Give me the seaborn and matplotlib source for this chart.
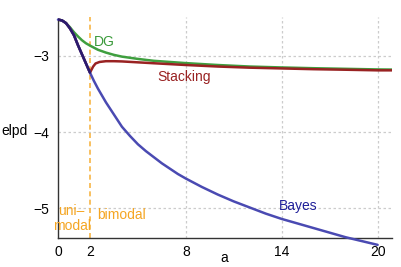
import numpy as np
import pandas as pd
import matplotlib
matplotlib.use("Agg")
import matplotlib.pyplot as plt
import seaborn as sns

sns.set_theme(style="white")
plt.rcParams['font.family'] = ['Liberation Sans', 'DejaVu Sans']

a_bayes = [0, 0.25, 0.5, 0.75, 1, 1.25, 1.5, 1.75, 2, 2.25, 2.5, 2.75, 3, 3.5, 4, 4.5,
           5, 5.5, 6, 6.5, 7, 7.5, 8, 9, 10, 11, 12, 13, 14, 15, 16, 17, 18, 19, 20]
bayes = [-2.524, -2.535, -2.57, -2.64, -2.73, -2.86, -2.98, -3.10, -3.22, -3.33, -3.43, -3.52,
         -3.61, -3.77, -3.93, -4.05, -4.16, -4.25, -4.33, -4.41, -4.48, -4.55, -4.61, -4.72,
         -4.82, -4.91, -4.99, -5.07, -5.14, -5.20, -5.26, -5.32, -5.38, -5.43, -5.48]

a_dg = [0, 0.25, 0.5, 0.75, 1, 1.25, 1.5, 1.75, 2, 2.5, 3, 3.5, 4, 5, 6, 7, 8, 10, 12, 14, 16, 18, 20, 21]
dg = [-2.524, -2.535, -2.57, -2.625, -2.69, -2.745, -2.795, -2.835, -2.865, -2.92, -2.957,
      -2.987, -3.01, -3.04, -3.065, -3.08, -3.095, -3.12, -3.14, -3.152, -3.162, -3.17, -3.178, -3.18]

a_stack = [0, 0.25, 0.5, 0.75, 1, 1.25, 1.5, 1.75, 2, 2.1, 2.2, 2.35, 2.6, 3, 3.5, 4, 5, 6, 8,
           10, 12, 14, 16, 18, 20, 21]
stacking = [-2.524, -2.535, -2.57, -2.64, -2.73, -2.86, -2.98, -3.10, -3.22, -3.18, -3.14,
            -3.10, -3.08, -3.07, -3.07, -3.073, -3.085, -3.097, -3.12, -3.14, -3.155, -3.165,
            -3.175, -3.182, -3.19, -3.19]

x_ticks = [0, 2, 8, 14, 20]
y_ticks = [-3, -4, -5]
boundary = 2

df_b = pd.DataFrame({"a": a_bayes, "elpd": bayes})
df_d = pd.DataFrame({"a": a_dg, "elpd": dg})
df_s = pd.DataFrame({"a": a_stack, "elpd": stacking})
df_ov = df_b[df_b["a"] <= boundary]

fig, ax = plt.subplots(figsize=(4.01, 2.67), dpi=100)
fig.subplots_adjust(left=58/401, right=392/401, bottom=(267-238)/267, top=(267-17)/267)

ax.set_xlim(0, 20.9)
ax.set_ylim(-5.39, -2.49)

for x in x_ticks[2:]:
    ax.axvline(x, color="#cccccc", lw=0.9, ls=(0, (2, 2)), zorder=0)
for y in y_ticks:
    ax.axhline(y, color="#cccccc", lw=0.9, ls=(0, (2, 2)), zorder=0)
ax.axvline(boundary, color="#f7b545", lw=1.2, ls=(0, (3, 2)), zorder=1)

sns.lineplot(data=df_d, x="a", y="elpd", ax=ax, color="#3f9f3f", lw=1.8, zorder=3)
sns.lineplot(data=df_s, x="a", y="elpd", ax=ax, color="#992222", lw=1.8, zorder=4)
sns.lineplot(data=df_b, x="a", y="elpd", ax=ax, color="#4a4ab2", lw=1.8, zorder=5, clip_on=False)
sns.lineplot(data=df_ov, x="a", y="elpd", ax=ax, color="#2c1a6c", lw=1.8, zorder=6)

ax.text(2.25, -2.82, "DG", color="#3a9a3a", fontsize=10, ha="left", va="center")
ax.text(6.2, -3.28, "Stacking", color="#992222", fontsize=10, ha="left", va="center")
ax.text(15.0, -4.97, "Bayes", color="#1f1f99", fontsize=10, ha="center", va="center")
ax.text(0.85, -5.14, "uni–\nmodal", color="#f5a623", fontsize=10, ha="center", va="center", linespacing=1.1)
ax.text(3.95, -5.09, "bimodal", color="#f5a623", fontsize=10, ha="center", va="center")

ax.set_xticks(x_ticks)
ax.set_yticks(y_ticks)
ax.set_xticklabels([str(v) for v in x_ticks])
ax.set_yticklabels(["−3", "−4", "−5"])
ax.tick_params(axis="both", length=0, labelsize=10, colors="black")
ax.tick_params(axis="x", pad=5)
ax.tick_params(axis="y", pad=6)

ax.set_xlabel("a", fontsize=10, color="black", va="center")
ax.set_ylabel("elpd", fontsize=10, rotation=0, color="black", ha="center", va="center")
ax.xaxis.set_label_coords(0.497, -0.09)
ax.yaxis.set_label_coords(-0.129, 0.484)

sns.despine(ax=ax)
for s in ["left", "bottom"]:
    ax.spines[s].set_color("#333333")
    ax.spines[s].set_linewidth(1.0)
ax.spines["left"].set_bounds(-5.39, -2.52)

fig.savefig("out.png", dpi=100)
